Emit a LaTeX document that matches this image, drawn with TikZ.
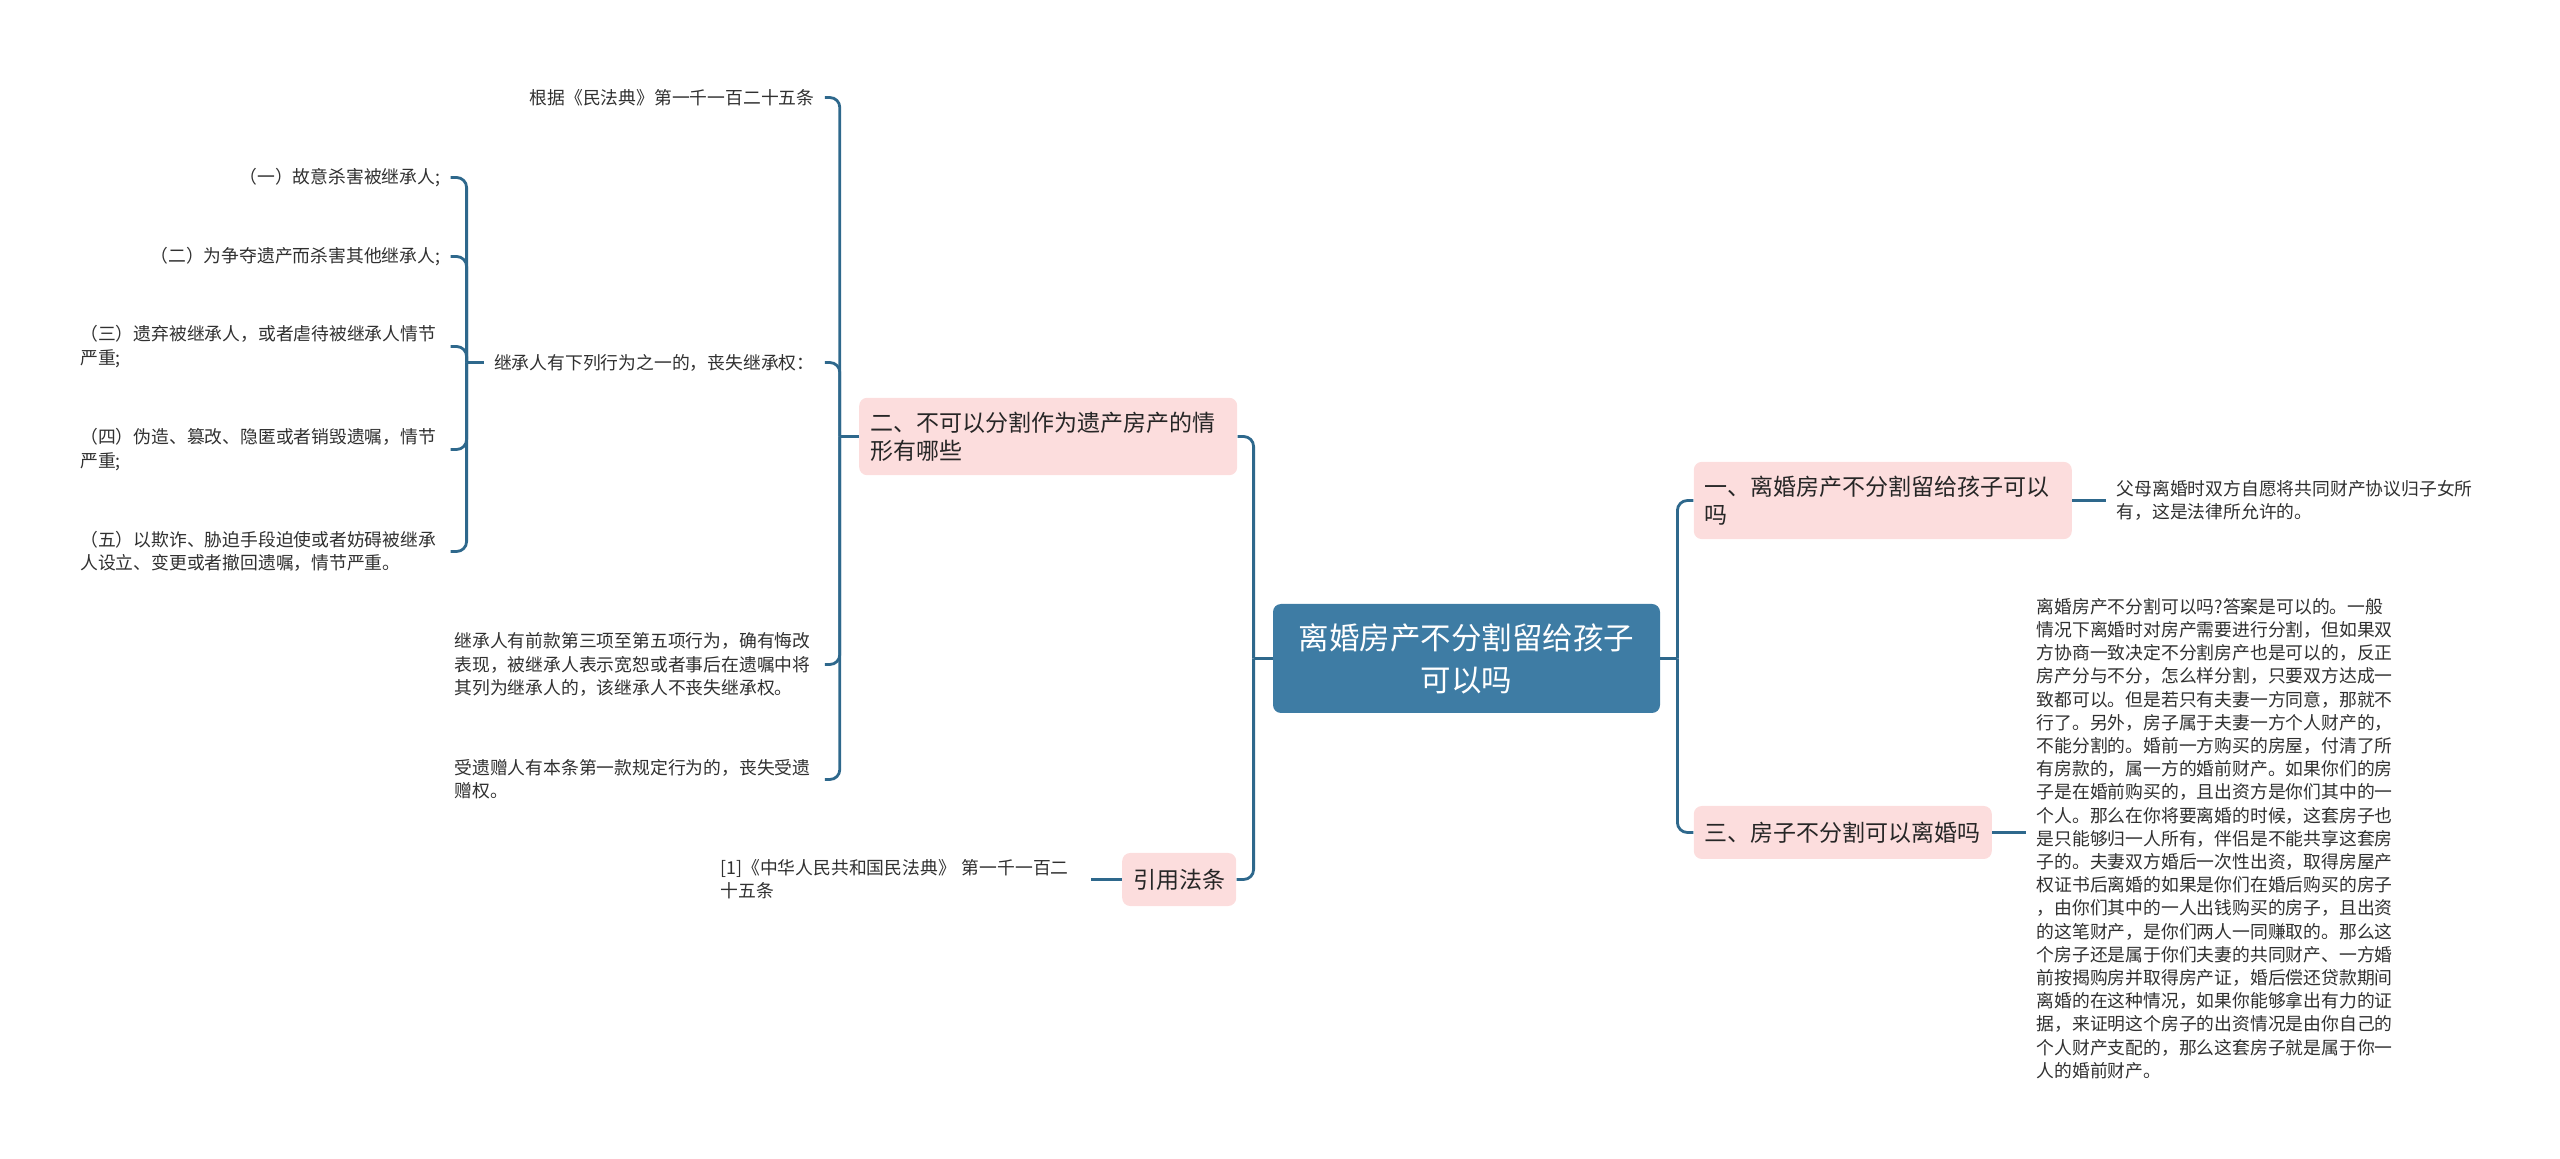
\documentclass[tikz,border=0pt]{standalone}
\usepackage{fontspec}
\setmainfont{Noto Sans CJK SC}
\usetikzlibrary{positioning}

\definecolor{rootblue}{RGB}{62,124,164}
\definecolor{branchpink}{RGB}{252,221,221}
\definecolor{linkblue}{RGB}{46,104,140}
\definecolor{leafgray}{RGB}{48,48,48}

\begin{document}
\begin{tikzpicture}[
    x=0.5pt, y=-0.5pt,
    node distance=17pt,
    rootblock/.style={
        rectangle,
        rounded corners=4pt,
        fill=rootblue,
        text=white,
        align=center,
        font=\fontsize{15.25}{21}\selectfont,
        minimum width=193.5pt,
        minimum height=54.5pt
    },
    branch/.style={
        rectangle,
        rounded corners=4pt,
        fill=branchpink,
        text=black!85,
        align=left,
        font=\fontsize{11.5}{14}\selectfont,
        inner xsep=5.5pt,
        inner ysep=7pt,
        minimum height=26.5pt
    },
    widebranch/.style={
        branch,
        text width=178pt
    },
    leaf/.style={
        inner xsep=5pt,
        inner ysep=2pt,
        text=leafgray,
        font=\fontsize{8.9}{11.6}\selectfont
    },
    wideleaf/.style={
        leaf,
        text width=180pt,
        align=left
    },
    link/.style={
        draw=linkblue,
        line width=1.4pt,
        rounded corners=5pt
    }
]

\useasboundingbox (0,0) rectangle (2560,1159);

% ------------------------------------------------------------------
% ROOT
% ------------------------------------------------------------------

\node[rootblock] (root) at (1466.5,658.5) {离婚房产不分割留给孩子\\可以吗};

% ------------------------------------------------------------------
% RIGHT BRANCHES
% ------------------------------------------------------------------

\node[widebranch, right=16.5pt of root, yshift=79pt] (first)
{一、离婚房产不分割留给孩子可以\\吗};

\node[branch, right=16.5pt of root, yshift=-87pt] (third)
{三、房子不分割可以离婚吗};

\node[wideleaf, right=of first] (parents)
{父母离婚时双方自愿将共同财产协议归子女所\\有，这是法律所允许的。};

\node[wideleaf, right=of third, yshift=-3pt] (answer)
{离婚房产不分割可以吗?答案是可以的。一般\\
情况下离婚时对房产需要进行分割，但如果双\\
方协商一致决定不分割房产也是可以的，反正\\
房产分与不分，怎么样分割，只要双方达成一\\
致都可以。但是若只有夫妻一方同意，那就不\\
行了。另外，房子属于夫妻一方个人财产的，\\
不能分割的。婚前一方购买的房屋，付清了所\\
有房款的，属一方的婚前财产。如果你们的房\\
子是在婚前购买的，且出资方是你们其中的一\\
个人。那么在你将要离婚的时候，这套房子也\\
是只能够归一人所有，伴侣是不能共享这套房\\
子的。夫妻双方婚后一次性出资，取得房屋产\\
权证书后离婚的如果是你们在婚后购买的房子\\
，由你们其中的一人出钱购买的房子，且出资\\
的这笔财产，是你们两人一同赚取的。那么这\\
个房子还是属于你们夫妻的共同财产、一方婚\\
前按揭购房并取得房产证，婚后偿还贷款期间\\
离婚的在这种情况，如果你能够拿出有力的证\\
据，来证明这个房子的出资情况是由你自己的\\
个人财产支配的，那么这套房子就是属于你一\\
人的婚前财产。};

% ------------------------------------------------------------------
% LEFT BRANCHES
% ------------------------------------------------------------------

\node[widebranch, left=17.5pt of root, yshift=111pt] (second)
{二、不可以分割作为遗产房产的情\\形有哪些};

\node[branch, left=18pt of root, yshift=-110.5pt] (cite)
{引用法条};

\node[wideleaf, left=15.5pt of cite] (citeleaf)
{[1]《中华人民共和国民法典》 第一千一百二\\十五条};

\node[leaf, left=of second, yshift=169.5pt] (article)
{根据《民法典》第一千一百二十五条};

\node[leaf, left=of second, yshift=37pt] (loss)
{继承人有下列行为之一的，丧失继承权：};

\node[wideleaf, left=of second, yshift=-114pt] (repent)
{继承人有前款第三项至第五项行为，确有悔改\\
表现，被继承人表示宽恕或者事后在遗嘱中将\\
其列为继承人的，该继承人不丧失继承权。};

\node[wideleaf, left=of second, yshift=-171.5pt] (bequest)
{受遗赠人有本条第一款规定行为的，丧失受遗\\赠权。};

% five cases
\node[leaf, left=16.5pt of loss, yshift=92.5pt] (one)
{（一）故意杀害被继承人;};

\node[leaf, left=16.5pt of loss, yshift=53pt] (two)
{（二）为争夺遗产而杀害其他继承人;};

\node[wideleaf, left=16.5pt of loss, yshift=8pt] (three)
{（三）遗弃被继承人，或者虐待被继承人情节\\严重;};

\node[wideleaf, left=16.5pt of loss, yshift=-43.5pt] (four)
{（四）伪造、篡改、隐匿或者销毁遗嘱，情节\\严重;};

\node[wideleaf, left=16.5pt of loss, yshift=-94.5pt] (five)
{（五）以欺诈、胁迫手段迫使或者妨碍被继承\\人设立、变更或者撤回遗嘱，情节严重。};

% ------------------------------------------------------------------
% CONNECTIONS
% ------------------------------------------------------------------

\draw[link] (root.east) -- ++(8.5pt,0) coordinate (rj);
\draw[link] (rj) |- (first.west);
\draw[link] (rj) |- (third.west);
\draw[link] (first.east) -- (parents.west);
\draw[link] (third.east) -- (answer.west |- third.east);

\draw[link] (root.west) -- ++(-9.5pt,0) coordinate (lj);
\draw[link] (lj) |- (second.east);
\draw[link] (lj) |- (cite.east);
\draw[link] (cite.west) -- (citeleaf.east);

\draw[link] (second.west) -- ++(-9.5pt,0) coordinate (sj);
\foreach \n in {article, loss, repent, bequest}
    \draw[link] (sj) |- (\n.east);

\draw[link] (loss.west) -- ++(-8.5pt,0) coordinate (cj);
\foreach \n in {one, two, three, four, five}
    \draw[link] (cj) |- (\n.east);

\end{tikzpicture}
\end{document}
